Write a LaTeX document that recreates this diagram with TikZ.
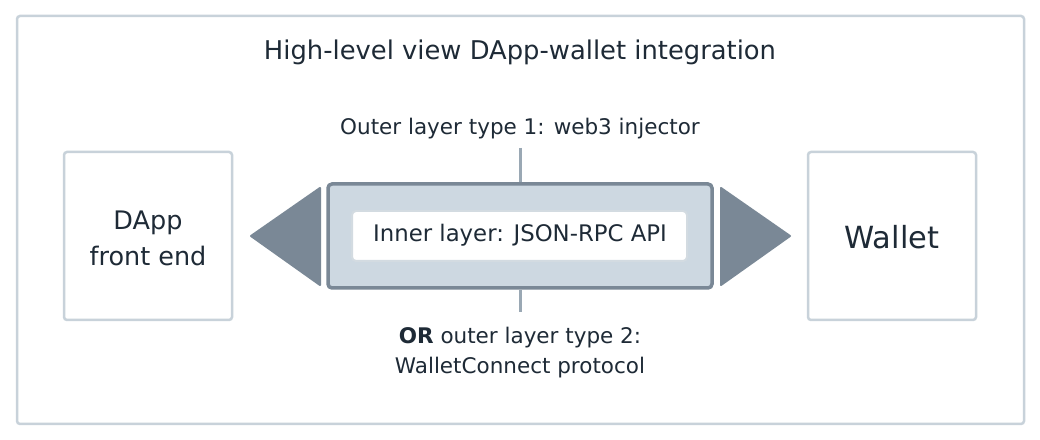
\documentclass[tikz,border=0pt]{standalone}
\usepackage{fontspec}
\setmainfont{DejaVu Sans}
\begin{document}
\definecolor{lb}{HTML}{C8D2DA}
\definecolor{dk}{HTML}{7A8896}
\definecolor{cf}{HTML}{CDD8E1}
\definecolor{ln}{HTML}{9AA8B4}
\definecolor{tx}{HTML}{1E2A36}
\begin{tikzpicture}[x=1bp,y=-1bp,
  box/.style={draw=lb,line width=2.5bp,rounded corners=3bp,fill=white},
  lbl/.style={text=tx,font=\fontsize{21.5bp}{30bp}\selectfont,align=center},
  tri/.style={fill=dk,draw=dk,line width=2bp,line join=round}]
\useasboundingbox (0,0) rectangle (1040,440);
\draw[box] (17,16) rectangle (1024,424);
\node[lbl,font=\fontsize{25.8bp}{30bp}\selectfont] (title) at (520,52) {High-level view DApp-wallet integration};
\draw[box] (64,152) rectangle (232,320);
\node[lbl,font=\fontsize{25.5bp}{36bp}\selectfont] (dapp) at (148,238) {DApp\\front end};
\draw[box] (808,152) rectangle (976,320);
\node[lbl,font=\fontsize{30.5bp}{34bp}\selectfont] (wallet) at (892,237) {Wallet};
\draw[tri] (320,188) -- (320,285) -- (251,236) -- cycle;
\draw[tri] (721,188) -- (721,285) -- (790,236) -- cycle;
\draw[draw=dk,fill=cf,line width=3.5bp,rounded corners=4bp] (328,184) rectangle (712,288);
\draw[draw=lb!80!white,fill=white,line width=2bp,rounded corners=4bp] (352,211) rectangle (687,261);
\node[lbl,font=\fontsize{22.8bp}{26bp}\selectfont] (inner) at (520,235) {Inner layer: JSON-RPC API};
\node[lbl] (outer1) at (520,129) {Outer layer type 1: web3 injector};
\node[lbl] (outer2) at (520,353) {\textbf{OR} outer layer type 2:\\WalletConnect protocol};
\coordinate (ct) at (520,182);
\coordinate (cb) at (520,290);
\draw[ln,line width=3bp] (520,148) -- (ct);
\draw[ln,line width=3bp] (cb) -- (520,312);
\end{tikzpicture}
\end{document}
